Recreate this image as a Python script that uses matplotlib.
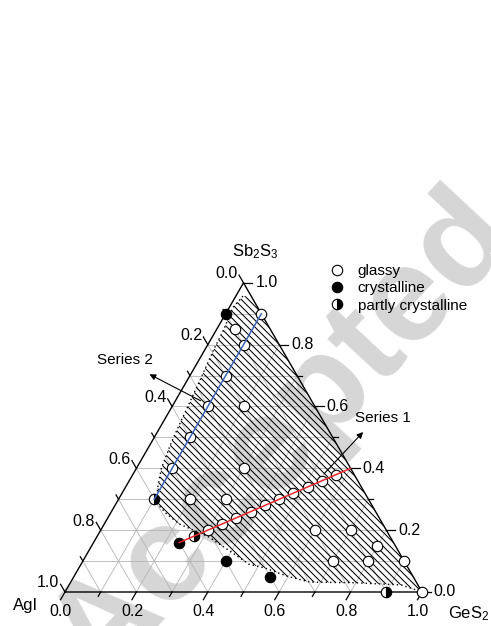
"""Ternary glass-forming diagram for the AgI - GeS2 - Sb2S3 system."""

import matplotlib
matplotlib.use("Agg")
import matplotlib.pyplot as plt
import numpy as np
from matplotlib.collections import LineCollection
from matplotlib.lines import Line2D
from matplotlib.patches import Polygon

plt.rcParams["font.family"] = ["Liberation Sans", "DejaVu Sans"]
plt.rcParams["mathtext.default"] = "regular"

# compositions as (GeS2, Sb2S3) mole fractions; AgI = 1 - GeS2 - Sb2S3
GLASSY_GES2 = [0.10, 0.10, 0.10, 0.10, 0.10, 0.10,
               0.57, 0.54, 0.51, 0.48, 0.45, 0.42, 0.39, 0.36, 0.33, 0.30,
               0.05, 0.20, 0.30, 0.20, 0.30, 0.60, 0.70, 0.80, 0.70, 0.80, 0.90, 1.00]
GLASSY_SB2S3 = [0.90, 0.80, 0.70, 0.60, 0.50, 0.40,
                0.38, 0.36, 0.34, 0.32, 0.30, 0.28, 0.26, 0.24, 0.22, 0.20,
                0.85, 0.60, 0.40, 0.30, 0.30, 0.20, 0.20, 0.15, 0.10, 0.10, 0.10, 0.00]

CRYST_GES2 = [0.00, 0.24, 0.40, 0.55]
CRYST_SB2S3 = [0.90, 0.16, 0.10, 0.05]

PARTLY_GES2 = [0.10, 0.27, 0.90]
PARTLY_SB2S3 = [0.30, 0.18, 0.00]

SERIES1_GES2 = [0.24, 0.60]
SERIES1_SB2S3 = [0.16, 0.40]
SERIES2_GES2 = [0.10, 0.10]
SERIES2_SB2S3 = [0.30, 0.90]

# glass-forming region boundary (left / bottom side, top to GeS2 corner)
REGION_GES2 = [0.043, 0.020, 0.010, 0.020, 0.025, 0.035, 0.045, 0.055, 0.070, 0.090,
               0.110, 0.155, 0.210, 0.310, 0.400, 0.470, 0.520, 0.600, 0.670, 0.790,
               0.930, 1.000]
REGION_SB2S3 = [0.957, 0.957, 0.920, 0.850, 0.780, 0.690, 0.590, 0.490, 0.400, 0.340,
                0.290, 0.255, 0.220, 0.180, 0.130, 0.090, 0.078, 0.050, 0.032, 0.030,
                0.023, 0.000]

TICKS = [0.0, 0.2, 0.4, 0.6, 0.8, 1.0]
MINOR = [0.1, 0.3, 0.5, 0.7, 0.9]

H = np.sqrt(3) / 2


def to_xy(ge, sb):
    ge = np.asarray(ge, float)
    sb = np.asarray(sb, float)
    return ge + sb / 2, sb * H


fig = plt.figure(figsize=(4.91, 6.26), dpi=100)
ax = fig.add_axes([0, 0, 1, 1])
ax.set_xlim(-65 / 357, 426 / 357)
ax.set_ylim(-34 / 357, 592 / 357)
ax.axis("off")

# watermark
ax.text(0.098, -0.26, "Accepted", fontsize=98, fontweight="bold",
        color="#d6d6d6", rotation=47, rotation_mode="anchor",
        ha="left", va="baseline", zorder=0)

# grid
grid_col = "#b4b4b4"
for k in np.arange(1, 10) / 10:
    for ge, sb in [([0, 1 - k], [k, k]), ([k, k], [0, 1 - k]), ([1 - k, 0], [0, 1 - k])]:
        x, y = to_xy(ge, sb)
        ax.plot(x, y, color=grid_col, lw=0.6, zorder=1)

# glass-forming region with dense hatching
rx, ry = to_xy(REGION_GES2 + [0.043], REGION_SB2S3 + [0.957])
region = Polygon(np.column_stack([rx, ry]), closed=True, fill=False, lw=0, zorder=2)
ax.add_patch(region)
segs = [[(c + 0.2, -0.2), (c - 1.2, 1.2)] for c in np.arange(0.0, 1.7, 0.0196)]
hatch = LineCollection(segs, colors="black", linewidths=0.75, zorder=2)
hatch.set_clip_path(region)
ax.add_collection(hatch)
bx, by = to_xy(REGION_GES2[1:], REGION_SB2S3[1:])
ax.plot(bx, by, color="black", lw=1.0, ls=(0, (1, 2.2)), zorder=2)

# triangle frame
tx, ty = to_xy([0, 1, 0, 0], [0, 0, 1, 0])
ax.plot(tx, ty, color="black", lw=1.0, zorder=3)

# ticks and labels
L_maj, L_min = 0.025, 0.014
for v in TICKS + MINOR:
    L = L_maj if v in TICKS else L_min
    # bottom (GeS2)
    x, y = to_xy(v, 0)
    ax.plot([x, x - 0.5 * L], [y, y - H * L], color="black", lw=0.9, zorder=3)
    if v in TICKS:
        ax.text(x - 0.5 * L, y - H * L - 0.011, f"{v:.1f}", fontsize=11.5,
                ha="center", va="top")
    # right (Sb2S3)
    x, y = to_xy(1 - v, v)
    ax.plot([x, x + L], [y, y], color="black", lw=0.9, zorder=3)
    if v in TICKS:
        ax.text(x + L + 0.008, y, f"{v:.1f}", fontsize=11.5, ha="left", va="center")
    # left (AgI)
    x, y = to_xy(0, 1 - v)
    ax.plot([x, x - 0.5 * L], [y, y + H * L], color="black", lw=0.9, zorder=3)
    if v in TICKS:
        ax.text(x - 0.5 * L - 0.003, y + H * L + 0.004, f"{v:.1f}", fontsize=11.5,
                ha="right", va="center")

ax.text(0.532, 0.939, "Sb$_2$S$_3$", fontsize=12, ha="center", va="baseline")
ax.text(-0.111, -0.050, "AgI", fontsize=12, ha="center", va="baseline")
ax.text(1.073, -0.074, "GeS$_2$", fontsize=12, ha="left", va="baseline")

# series lines
x1, y1 = to_xy(SERIES1_GES2, SERIES1_SB2S3)
ax.plot(x1, y1, color="#e8262b", lw=1.1, zorder=6)
x2, y2 = to_xy(SERIES2_GES2, SERIES2_SB2S3)
ax.plot(x2, y2, color="#3d63b8", lw=1.1, zorder=6)

# samples
mk = dict(ls="none", marker="o", ms=7.5, mew=0.8, mec="black", zorder=5)
gx, gy = to_xy(GLASSY_GES2, GLASSY_SB2S3)
ax.plot(gx, gy, mfc="white", **mk)
cx, cy = to_xy(CRYST_GES2, CRYST_SB2S3)
ax.plot(cx, cy, mfc="black", **mk)
px, py = to_xy(PARTLY_GES2, PARTLY_SB2S3)
ax.plot(px, py, mfc="black", mfcalt="white", fillstyle="right", **mk)

# series annotations
arrow = dict(arrowstyle="-|>", color="black", lw=0.8, mutation_scale=9)
ax.annotate("", xy=(0.2297, 0.6134), xytext=(0.3866, 0.5322), arrowprops=arrow)
ax.text(0.168, 0.650, "Series 2", fontsize=11, ha="center", va="center")
ax.annotate("", xy=(0.8403, 0.4538), xytext=(0.72, 0.325), arrowprops=arrow)
ax.text(0.891, 0.487, "Series 1", fontsize=11, ha="center", va="center")

# legend
handles = [
    Line2D([], [], ls="none", marker="o", ms=7.5, mew=0.8, mec="black", mfc="white"),
    Line2D([], [], ls="none", marker="o", ms=7.5, mew=0.8, mec="black", mfc="black"),
    Line2D([], [], ls="none", marker="o", ms=7.5, mew=0.8, mec="black", mfc="black",
           mfcalt="white", fillstyle="right"),
]
fig.legend(handles, ["glassy", "crystalline", "partly crystalline"],
           loc="upper left", bbox_to_anchor=(329 / 491, 1 - 264 / 626),
           frameon=False, fontsize=11, handlelength=1.0, handletextpad=0.87,
           labelspacing=0.22, borderpad=0, borderaxespad=0)

fig.savefig("out.png", dpi=100)
